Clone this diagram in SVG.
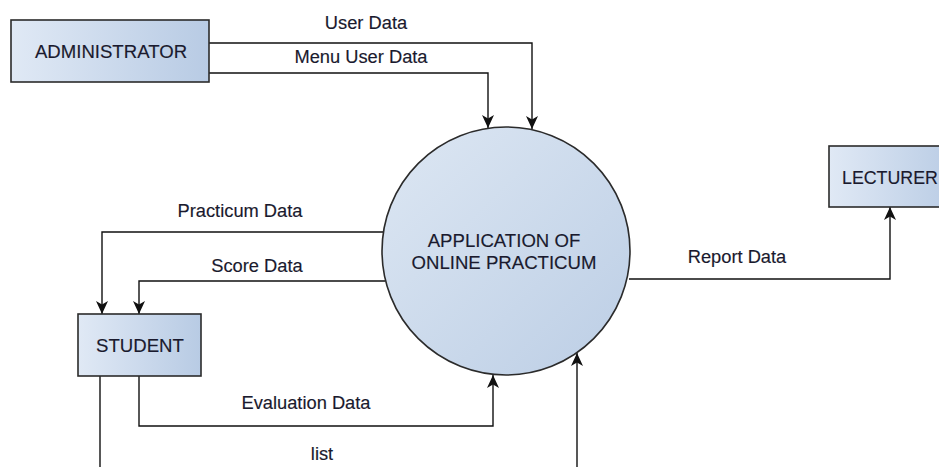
<svg xmlns="http://www.w3.org/2000/svg" width="939" height="467" viewBox="0 0 939 467">
  <defs>
    <linearGradient id="boxFill" x1="0" y1="0" x2="1" y2="0">
      <stop offset="0" stop-color="#e0e9f5"/>
      <stop offset="1" stop-color="#b8cbe4"/>
    </linearGradient>
    <linearGradient id="procFill" x1="0" y1="0" x2="1" y2="1">
      <stop offset="0" stop-color="#dde7f3"/>
      <stop offset="1" stop-color="#bccee5"/>
    </linearGradient>
    <marker id="arrow" markerWidth="18" markerHeight="18" refX="13" refY="0" viewBox="-1 -9 18 18" orient="auto" markerUnits="userSpaceOnUse">
      <path d="M0,-6 L13,0 L0,6 L3.5,0 Z" fill="#111"/>
    </marker>
    <style>
      .entity { fill: url(#boxFill); stroke: #2b2b2b; stroke-width: 1.6; }
      .process { fill: url(#procFill); stroke: #2b2b2b; stroke-width: 1.6; }
      .name { font-family: "Liberation Sans", Arial, sans-serif; font-size: 18.6px; fill: #1a1a2e; text-anchor: middle; stroke: #1a1a2e; stroke-width: 0.15; }
      .label { font-family: "Liberation Sans", Arial, sans-serif; font-size: 18.3px; fill: #1a1a2e; text-anchor: middle; stroke: #1a1a2e; stroke-width: 0.15; }
      .flow { fill: none; stroke: #111; stroke-width: 1.4; }
      .flow-end { marker-end: url(#arrow); }
    </style>
  </defs>

  <rect width="939" height="467" fill="#ffffff"/>

  <!-- data flows -->
  <g id="connectors">
    <polyline class="flow flow-end" points="209,43 532,43 532,129"/>
    <polyline class="flow flow-end" points="209,73 488,73 488,128"/>
    <polyline class="flow flow-end" points="384,232 102,232 102,314"/>
    <polyline class="flow flow-end" points="385,281 139,281 139,314"/>
    <polyline class="flow flow-end" points="629,279 890,279 890,207"/>
    <polyline class="flow flow-end" points="139,376 139,426 493,426 493,375"/>
    <polyline class="flow" points="100,376 100,470"/>
    <polyline class="flow flow-end" points="577,470 577,353"/>

    <text class="label" x="366" y="29">User Data</text>
    <text class="label" x="361" y="63">Menu User Data</text>
    <text class="label" x="240" y="217">Practicum Data</text>
    <text class="label" x="257" y="272">Score Data</text>
    <text class="label" x="737" y="263">Report Data</text>
    <text class="label" x="306" y="409">Evaluation Data</text>
    <text class="label" x="322" y="460">list</text>
  </g>

  <g id="administrator">
    <rect class="entity" x="11" y="20" width="198" height="62"/>
    <text class="name" x="111" y="58">ADMINISTRATOR</text>
  </g>

  <g id="student">
    <rect class="entity" x="78" y="314" width="123" height="62"/>
    <text class="name" x="140" y="352">STUDENT</text>
  </g>

  <!-- this box runs past the right edge of the sheet -->
  <g id="lecturer">
    <rect class="entity" x="829" y="146" width="130" height="61"/>
    <text class="name" x="842" y="184" style="text-anchor:start;font-size:17.8px">LECTURER</text>
  </g>

  <g id="application">
    <circle class="process" cx="506" cy="251" r="124"/>
    <text class="name" x="504" y="247">APPLICATION OF</text>
    <text class="name" x="504" y="269">ONLINE PRACTICUM</text>
  </g>
</svg>
